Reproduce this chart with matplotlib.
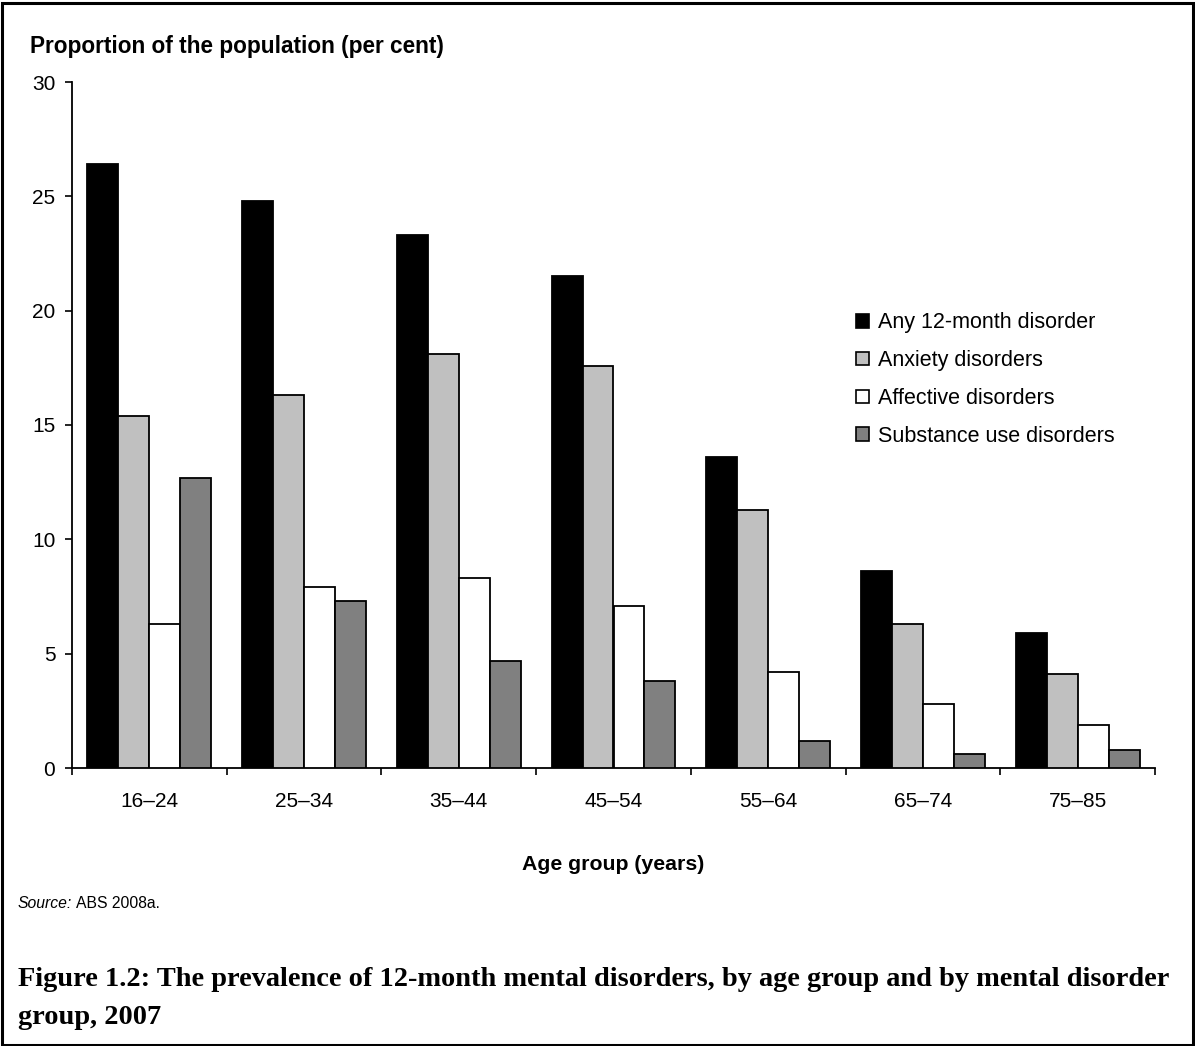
import matplotlib
matplotlib.use("Agg")
import matplotlib.pyplot as plt
import numpy as np
from matplotlib.patches import Patch, Rectangle

categories = ["16–24", "25–34", "35–44", "45–54", "55–64", "65–74", "75–85"]
series_names = ["Any 12-month disorder", "Anxiety disorders", "Affective disorders", "Substance use disorders"]
any_disorder = [26.4, 24.8, 23.3, 21.5, 13.6, 8.6, 5.9]
anxiety = [15.4, 16.3, 18.1, 17.6, 11.3, 6.3, 4.1]
affective = [6.3, 7.9, 8.3, 7.1, 4.2, 2.8, 1.9]
substance = [12.7, 7.3, 4.7, 3.8, 1.2, 0.6, 0.8]
colors = ["#000000", "#c0c0c0", "#ffffff", "#808080"]

W, H = 1195, 1046
fig = plt.figure(figsize=(W / 100, H / 100), dpi=100)
ax = fig.add_axes([72 / W, (H - 768) / H, (1155 - 72) / W, (768 - 82) / H])

x = np.arange(len(categories))
bw = 0.2
for i, (vals, c) in enumerate(zip([any_disorder, anxiety, affective, substance], colors)):
    ax.bar(x + (i - 1.5) * bw, vals, width=bw, color=c, edgecolor="black", linewidth=1.3, zorder=3)

ax.set_xlim(-0.5, len(categories) - 0.5)
ax.set_ylim(0, 30)
ax.set_yticks([0, 5, 10, 15, 20, 25, 30])
ax.set_xticks(x)
ax.set_xticklabels(categories)
ax.set_xticks(np.arange(len(categories) + 1) - 0.5, minor=True)
ax.tick_params(axis="x", which="major", length=0, pad=17, labelsize=15)
ax.tick_params(axis="x", which="minor", length=5, width=1.2, direction="out")
ax.tick_params(axis="y", length=5, width=1.2, direction="out", labelsize=15, pad=7)
for s in ["top", "right"]:
    ax.spines[s].set_visible(False)
for s in ["left", "bottom"]:
    ax.spines[s].set_linewidth(1.3)
for lab in ax.get_xticklabels() + ax.get_yticklabels():
    lab.set_family("Liberation Sans")

fig.text(30 / W, 1 - 47 / H, "Proportion of the population (per cent)", fontsize=16.3,
         fontweight="bold", family="Liberation Sans", va="center", ha="left")
fig.text((72 + 1155) / 2 / W, 1 - 864 / H, "Age group (years)", fontsize=15.3,
         fontweight="bold", family="Liberation Sans", va="center", ha="center")
t1 = fig.text(18 / W, 1 - 904 / H, "Source:", fontsize=11.3, style="italic",
              family="Liberation Sans", va="center", ha="left")
fig.canvas.draw()
bb = t1.get_window_extent()
fig.text(bb.x1 / W + 4 / W, 1 - 904 / H, "ABS 2008a.", fontsize=11.3,
         family="Liberation Sans", va="center", ha="left")

line1 = "Figure 1.2: The prevalence of 12-month mental disorders, by age group and by mental disorder"
line2 = "group, 2007"
tt = fig.text(18 / W, 1 - 980 / H, line1, fontsize=18, fontweight="bold",
              family="Liberation Serif", va="center", ha="left")
fig.canvas.draw()
wpx = tt.get_window_extent().width
fs = 18 * 1149 / wpx
tt.set_fontsize(fs)
fig.text(18 / W, 1 - 1018 / H, line2, fontsize=fs, fontweight="bold",
         family="Liberation Serif", va="center", ha="left")

handles = [Patch(facecolor=c, edgecolor="black", linewidth=1.2) for c in colors]
leg = ax.legend(handles, series_names, loc="upper left",
                bbox_to_anchor=((837 - 72) / (1155 - 72), 1 - (293 - 82) / (768 - 82)),
                frameon=False, handlelength=0.6, handleheight=0.6, handletextpad=0.4,
                labelspacing=0.78, prop={"family": "Liberation Sans", "size": 15.5})

fig.patches.append(Rectangle((1.5 / W, 1.5 / H), 1 - 4 / W, 1 - 4 / H, transform=fig.transFigure,
                             fill=False, edgecolor="black", linewidth=2.2))

fig.savefig("out.png", dpi=100)
